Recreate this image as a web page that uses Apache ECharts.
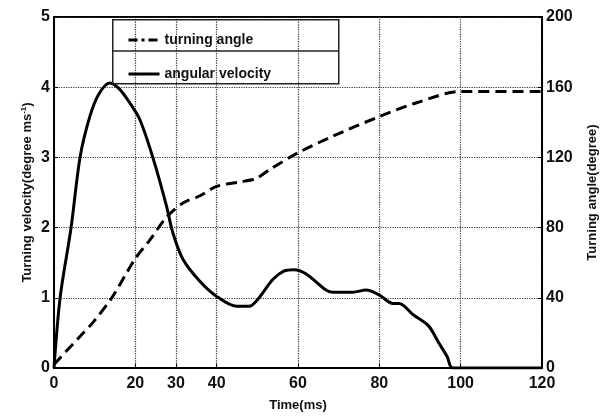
<!DOCTYPE html>
<html>
<head>
<meta charset="utf-8">
<script src="https://cdn.jsdelivr.net/npm/echarts@6/dist/echarts.min.js"></script>
<style>
  html, body { margin: 0; padding: 0; background: #fff; }
  #container { width: 607px; height: 417px; }
</style>
</head>
<body>
<div id="container"></div>
<script>
// angular velocity (degree/ms) vs time (ms)
var velTime = [0, 1.5, 4.2, 6.4, 8.8, 11, 13.7, 16, 18.6, 21.1, 24.3, 27.7, 29.2, 31.7, 35.8, 40, 44.8, 48, 50, 53.8, 56.5, 59, 62, 66.9, 68.5, 73.5, 76.7, 80, 83.3, 84.9, 88.3, 92.1, 94.6, 96.7, 98, 110, 120];
var velValue = [0, 1.0, 2.0, 3.0, 3.58, 3.9, 4.06, 3.98, 3.78, 3.54, 3.0, 2.3, 1.93, 1.55, 1.24, 1.02, 0.88, 0.88, 0.97, 1.26, 1.38, 1.40, 1.34, 1.11, 1.08, 1.08, 1.11, 1.04, 0.92, 0.92, 0.76, 0.60, 0.36, 0.16, 0, 0, 0];
// turning angle (degree) vs time (ms)
var angTime = [0, 6.4, 9.6, 14.2, 19.9, 23.6, 27.7, 31.7, 35.8, 40, 45.6, 49.7, 53, 60, 68.5, 80, 89, 100, 120];
var angValue = [2, 18, 26, 40, 62, 73, 86, 94, 98, 103.5, 106, 108, 113, 122.6, 132, 143.3, 151, 157.6, 157.6];
var xTicks = [0, 20, 30, 40, 60, 80, 100, 120];

function pairs(xs, ys) {
  return xs.map(function (x, i) { return [x, ys[i]]; });
}

var myChart = echarts.init(document.getElementById('container'));
var font = 'Liberation Sans, Arial, sans-serif';

var option = {
  backgroundColor: '#fff',
  animation: false,
  grid: {
    left: 54, right: 64, top: 17, bottom: 48,
    show: true, borderColor: '#000', borderWidth: 2
  },
  legend: {
    orient: 'vertical',
    left: 122, top: 28,
    itemWidth: 31, itemHeight: 14, itemGap: 20,
    itemStyle: { opacity: 0 },
    textStyle: { fontFamily: font, fontSize: 14, fontWeight: 'bold', color: '#111' },
    data: [
      { name: 'turning angle', lineStyle: { type: [9, 4, 3, 4], width: 3, color: '#000' } },
      { name: 'angular velocity', lineStyle: { width: 3, color: '#000' } }
    ]
  },
  graphic: [
    { type: 'rect', left: 112, top: 19, shape: { width: 226, height: 64 },
      style: { fill: 'transparent', stroke: '#222', lineWidth: 1.5 }, z: 100 },
    { type: 'line', shape: { x1: 112, y1: 51, x2: 338, y2: 51 },
      style: { stroke: '#222', lineWidth: 1.5 }, z: 100 }
  ],
  xAxis: {
    type: 'value', min: 0, max: 120,
    name: 'Time(ms)', nameLocation: 'middle', nameGap: 31,
    nameTextStyle: { fontFamily: font, fontSize: 13, fontWeight: 'bold', color: '#111' },
    axisLine: { lineStyle: { color: '#000', width: 2 } },
    axisTick: { inside: true, length: 4, customValues: xTicks, lineStyle: { color: '#000' } },
    axisLabel: { customValues: xTicks, margin: 8, fontFamily: font, fontSize: 16, fontWeight: 'bold', color: '#111' },
    splitLine: { show: true, lineStyle: { type: 'dotted', color: '#333', width: 1.2 } }
  },
  yAxis: [{
    type: 'value', min: 0, max: 5, interval: 1,
    name: 'Turning velocity(degree ms{sup|-1})', nameLocation: 'middle', nameGap: 20,
    nameMoveOverlap: false,
    nameTextStyle: { fontFamily: font, fontSize: 13, fontWeight: 'bold', color: '#111',
      rich: { sup: { fontSize: 8, fontWeight: 'bold', verticalAlign: 'top', padding: [0, 0, 6, 0] } } },
    axisLine: { show: true, lineStyle: { color: '#000', width: 2 } },
    axisTick: { show: true, inside: true, length: 4, lineStyle: { color: '#000' } },
    axisLabel: { margin: 4, fontFamily: font, fontSize: 16, fontWeight: 'bold', color: '#111' },
    splitLine: { show: true, lineStyle: { type: 'dotted', color: '#333', width: 1.2 } }
  }, {
    type: 'value', min: 0, max: 200, interval: 40, position: 'right',
    name: 'Turning angle(degree)', nameLocation: 'middle', nameGap: 44, nameRotate: 90,
    nameTextStyle: { fontFamily: font, fontSize: 13, fontWeight: 'bold', color: '#111' },
    axisLine: { show: true, lineStyle: { color: '#000', width: 2 } },
    axisTick: { show: true, inside: true, length: 4, lineStyle: { color: '#000' } },
    axisLabel: { margin: 4, fontFamily: font, fontSize: 16, fontWeight: 'bold', color: '#111' },
    splitLine: { show: false }
  }],
  series: [{
    name: 'turning angle', type: 'line', yAxisIndex: 1,
    symbol: 'none', smooth: 0.3,
    lineStyle: { color: '#000', width: 3, type: [11, 6] },
    itemStyle: { color: '#000' },
    data: pairs(angTime, angValue)
  }, {
    name: 'angular velocity', type: 'line', yAxisIndex: 0,
    symbol: 'none', smooth: 0.3,
    lineStyle: { color: '#000', width: 3 },
    itemStyle: { color: '#000' },
    data: pairs(velTime, velValue)
  }]
};
myChart.setOption(option);
</script>
</body>
</html>
